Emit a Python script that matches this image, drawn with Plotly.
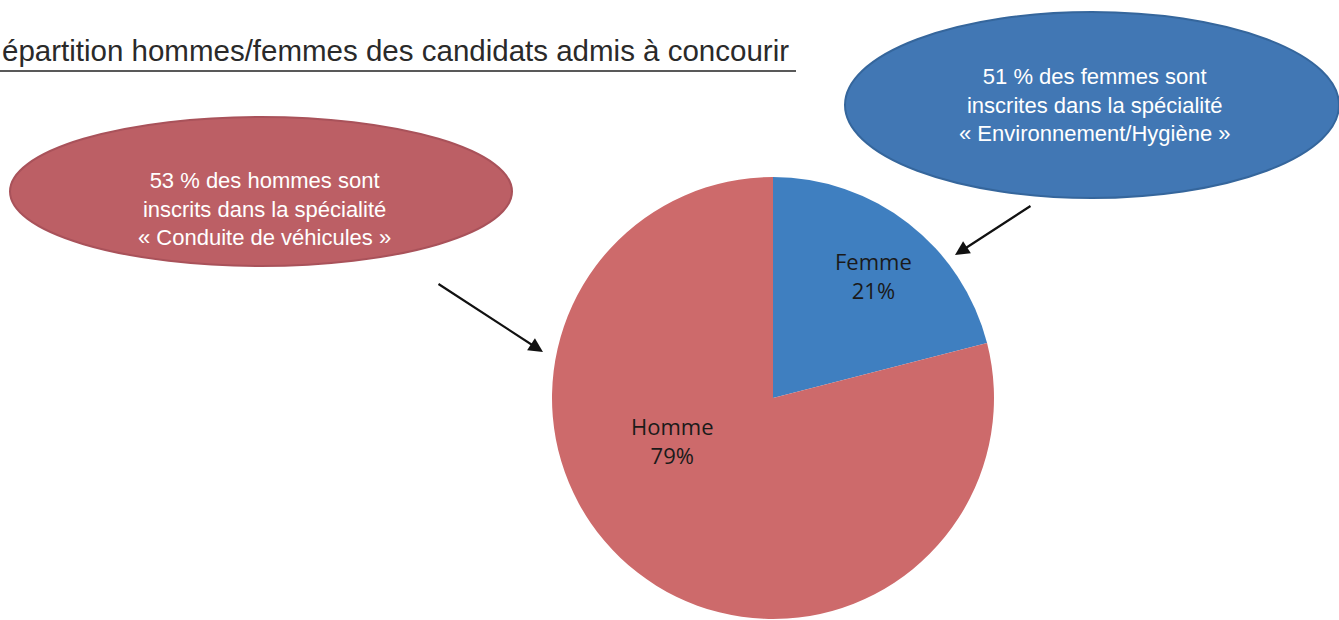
import plotly.graph_objects as go

W, H = 1339, 620

categories = ["Femme", "Homme"]
values = [21, 79]
slice_colors = ["#3F7FC0", "#CD6A6B"]

title_text = "épartition hommes/femmes des candidats admis à concourir"
bubble_left = ["53 % des hommes sont", "inscrits dans la spécialité", "« Conduite de véhicules »"]
bubble_right = ["51 % des femmes sont", "inscrites dans la spécialité", "« Environnement/Hygiène »"]

def px(x):
    return x / W

def py(y):
    return 1 - y / H

cx, cy, r = 773, 398, 221

fig = go.Figure()
fig.add_trace(go.Pie(
    labels=categories,
    values=values,
    sort=False,
    direction="clockwise",
    rotation=0,
    marker=dict(colors=slice_colors, line=dict(width=0)),
    textinfo="none",
    hoverinfo="label+percent",
    showlegend=False,
    domain=dict(x=[px(cx - r), px(cx + r)], y=[py(cy + r), py(cy - r)]),
))

shapes = [
    dict(type="circle", xref="paper", yref="paper",
         x0=px(10), x1=px(512), y0=py(266), y1=py(117),
         fillcolor="#BC5F65", line=dict(color="#A9525A", width=2), layer="above"),
    dict(type="circle", xref="paper", yref="paper",
         x0=px(845), x1=px(1339), y0=py(198), y1=py(12),
         fillcolor="#4177B4", line=dict(color="#35669C", width=2), layer="above"),
    dict(type="line", xref="paper", yref="paper",
         x0=px(0), x1=px(796), y0=py(71), y1=py(71),
         line=dict(color="#222222", width=1.5)),
]

annotations = [
    dict(text=title_text, x=px(0), y=py(50), xref="paper", yref="paper",
         xanchor="left", yanchor="middle", showarrow=False,
         font=dict(family="Liberation Sans", size=29.5, color="#2A2A2A")),
    dict(text="<br>".join(bubble_left), x=px(264), y=py(209), xref="paper", yref="paper",
         xanchor="center", yanchor="middle", showarrow=False, align="center",
         font=dict(family="Liberation Sans", size=22, color="#FFFFFF")),
    dict(text="<br>".join(bubble_right), x=px(1095), y=py(105), xref="paper", yref="paper",
         xanchor="center", yanchor="middle", showarrow=False, align="center",
         font=dict(family="Liberation Sans", size=22, color="#FFFFFF")),
    dict(text=f"{categories[0]}<br>{values[0]}%", x=px(873), y=py(275), xref="paper", yref="paper",
         xanchor="center", yanchor="middle", showarrow=False, align="center",
         font=dict(family="Open Sans", size=22, color="#1A1A1A")),
    dict(text=f"{categories[1]}<br>{values[1]}%", x=px(672), y=py(440), xref="paper", yref="paper",
         xanchor="center", yanchor="middle", showarrow=False, align="center",
         font=dict(family="Open Sans", size=22, color="#1A1A1A")),
    dict(text="", x=px(543), y=py(352), xref="paper", yref="paper",
         ax=437 - 543, ay=283 - 352, axref="pixel", ayref="pixel",
         showarrow=True, arrowhead=2, arrowsize=1.3, arrowwidth=2.2, arrowcolor="#111111"),
    dict(text="", x=px(955), y=py(255), xref="paper", yref="paper",
         ax=1032 - 955, ay=205 - 255, axref="pixel", ayref="pixel",
         showarrow=True, arrowhead=2, arrowsize=1.3, arrowwidth=2.2, arrowcolor="#111111"),
]

fig.update_layout(
    width=W, height=H,
    margin=dict(l=0, r=0, t=0, b=0),
    paper_bgcolor="white", plot_bgcolor="white",
    shapes=shapes,
    annotations=annotations,
)

fig.write_html(
    "out.html",
    config={"displayModeBar": False},
    post_script="document.body.style.margin='0';document.body.style.overflow='hidden';",
)
